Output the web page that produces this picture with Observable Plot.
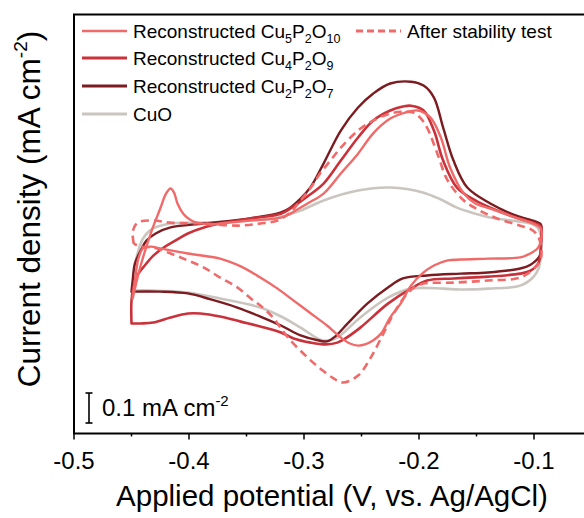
<!DOCTYPE html>
<html>
<head>
<meta charset="utf-8">
<script src="https://cdn.jsdelivr.net/npm/d3@7"></script>
<script src="https://cdn.jsdelivr.net/npm/@observablehq/plot@0.6"></script>
<style>
  html, body { margin: 0; padding: 0; background: #fff; }
  #chart { width: 584px; height: 518px; overflow: hidden; }
</style>
</head>
<body>
<div id="chart"></div>
<script>
// Cyclic voltammograms: potential (V vs. Ag/AgCl) and current density (mA cm^-2),
// each loop traced anodic sweep first, then the cathodic return.

const cu5Potential = [-0.449, -0.442, -0.433, -0.425, -0.420, -0.416, -0.413, -0.410, -0.405, -0.399, -0.393, -0.381, -0.373, -0.347, -0.320, -0.312, -0.297, -0.283, -0.268, -0.253, -0.240, -0.225, -0.212, -0.201, -0.190, -0.181, -0.173, -0.161, -0.151, -0.138, -0.116, -0.099, -0.094, -0.094, -0.097, -0.105, -0.112, -0.140, -0.164, -0.175, -0.187, -0.196, -0.207, -0.216, -0.225, -0.233, -0.240, -0.247, -0.253, -0.260, -0.268, -0.280, -0.294, -0.309, -0.323, -0.338, -0.355, -0.373, -0.401, -0.425, -0.433, -0.440, -0.444, -0.447, -0.449];
const cu5Current = [-0.120, -0.010, 0.100, 0.180, 0.230, 0.247, 0.233, 0.197, 0.163, 0.143, 0.133, 0.127, 0.130, 0.140, 0.150, 0.163, 0.197, 0.230, 0.297, 0.363, 0.430, 0.480, 0.500, 0.507, 0.483, 0.417, 0.317, 0.230, 0.197, 0.180, 0.150, 0.127, 0.113, 0.073, 0.047, 0.027, 0.017, 0.013, 0.010, 0.007, -0.010, -0.033, -0.077, -0.137, -0.183, -0.237, -0.260, -0.273, -0.277, -0.270, -0.250, -0.210, -0.170, -0.127, -0.087, -0.050, -0.013, 0.013, 0.030, 0.047, 0.053, 0.047, 0.013, -0.060, -0.120];

const stabilityPotential = [-0.448, -0.449, -0.447, -0.442, -0.431, -0.416, -0.387, -0.358, -0.338, -0.323, -0.312, -0.303, -0.294, -0.286, -0.277, -0.268, -0.253, -0.240, -0.225, -0.212, -0.205, -0.199, -0.193, -0.184, -0.175, -0.161, -0.147, -0.132, -0.112, -0.101, -0.096, -0.094, -0.094, -0.099, -0.112, -0.140, -0.170, -0.199, -0.210, -0.222, -0.231, -0.242, -0.253, -0.266, -0.274, -0.286, -0.294, -0.314, -0.327, -0.338, -0.344, -0.358, -0.373, -0.387, -0.401, -0.416, -0.431, -0.442, -0.448];
const stabilityCurrent = [0.063, 0.097, 0.123, 0.137, 0.140, 0.133, 0.130, 0.123, 0.130, 0.140, 0.167, 0.207, 0.250, 0.297, 0.340, 0.383, 0.440, 0.473, 0.497, 0.503, 0.500, 0.483, 0.450, 0.363, 0.273, 0.207, 0.173, 0.147, 0.123, 0.107, 0.083, 0.057, 0.013, -0.017, -0.050, -0.060, -0.067, -0.073, -0.103, -0.170, -0.237, -0.317, -0.377, -0.400, -0.387, -0.353, -0.327, -0.250, -0.183, -0.143, -0.127, -0.083, -0.050, -0.017, 0.007, 0.030, 0.050, 0.053, 0.063];

const cu4Potential = [-0.450, -0.450, -0.448, -0.445, -0.440, -0.431, -0.422, -0.412, -0.401, -0.387, -0.373, -0.347, -0.320, -0.312, -0.297, -0.283, -0.268, -0.253, -0.240, -0.225, -0.214, -0.207, -0.196, -0.187, -0.179, -0.167, -0.151, -0.138, -0.116, -0.099, -0.094, -0.094, -0.096, -0.103, -0.112, -0.140, -0.170, -0.193, -0.207, -0.227, -0.251, -0.264, -0.271, -0.281, -0.294, -0.309, -0.320, -0.338, -0.355, -0.373, -0.390, -0.401, -0.416, -0.431, -0.442, -0.450];
const cu4Current = [-0.203, -0.127, -0.077, -0.043, -0.017, 0.023, 0.050, 0.073, 0.097, 0.117, 0.130, 0.147, 0.163, 0.180, 0.220, 0.263, 0.340, 0.417, 0.473, 0.507, 0.520, 0.523, 0.507, 0.440, 0.340, 0.250, 0.207, 0.183, 0.150, 0.130, 0.120, 0.057, 0.000, -0.027, -0.037, -0.047, -0.053, -0.060, -0.087, -0.137, -0.217, -0.253, -0.267, -0.273, -0.267, -0.253, -0.233, -0.213, -0.197, -0.180, -0.170, -0.170, -0.183, -0.200, -0.203, -0.203];

const cu2Potential = [-0.450, -0.449, -0.447, -0.442, -0.437, -0.429, -0.416, -0.387, -0.347, -0.320, -0.312, -0.303, -0.294, -0.283, -0.268, -0.253, -0.240, -0.225, -0.207, -0.196, -0.187, -0.179, -0.170, -0.158, -0.138, -0.116, -0.099, -0.094, -0.094, -0.095, -0.103, -0.112, -0.140, -0.164, -0.193, -0.214, -0.227, -0.245, -0.262, -0.273, -0.280, -0.287, -0.303, -0.320, -0.338, -0.358, -0.381, -0.401, -0.425, -0.450];
const cu2Current = [-0.097, -0.060, -0.003, 0.040, 0.073, 0.097, 0.117, 0.130, 0.147, 0.167, 0.183, 0.213, 0.253, 0.330, 0.440, 0.517, 0.563, 0.597, 0.603, 0.590, 0.550, 0.450, 0.340, 0.250, 0.197, 0.157, 0.137, 0.127, 0.073, 0.023, -0.007, -0.020, -0.033, -0.037, -0.043, -0.053, -0.083, -0.137, -0.203, -0.247, -0.263, -0.260, -0.243, -0.210, -0.180, -0.150, -0.123, -0.103, -0.097, -0.097];

const cuoPotential = [-0.448, -0.448, -0.447, -0.444, -0.440, -0.433, -0.416, -0.387, -0.347, -0.320, -0.303, -0.283, -0.253, -0.225, -0.196, -0.181, -0.167, -0.151, -0.138, -0.120, -0.103, -0.097, -0.094, -0.094, -0.096, -0.101, -0.112, -0.140, -0.164, -0.179, -0.207, -0.227, -0.251, -0.271, -0.279, -0.286, -0.303, -0.320, -0.338, -0.373, -0.401, -0.433, -0.448];
const cuoCurrent = [-0.093, -0.070, -0.010, 0.040, 0.080, 0.110, 0.130, 0.133, 0.140, 0.153, 0.173, 0.207, 0.240, 0.250, 0.233, 0.210, 0.183, 0.163, 0.150, 0.140, 0.130, 0.117, 0.090, 0.023, -0.020, -0.050, -0.077, -0.087, -0.090, -0.087, -0.087, -0.117, -0.183, -0.250, -0.260, -0.257, -0.217, -0.180, -0.150, -0.120, -0.100, -0.093, -0.093];

const xTicks = [-0.5, -0.4, -0.3, -0.2, -0.1];
const xMinorTicks = [-0.45, -0.35, -0.25, -0.15];
const scaleBarValue = 0.1; // mA cm^-2

const colors = {
  cu5: "#f06a6a",
  cu4: "#c9323a",
  cu2: "#7c1b20",
  cuo: "#cbc5c0"
};

const rows = (potential, current) => potential.map((v, i) => ({potential: v, current: current[i]}));

const lineOpts = (stroke, extra = {}) => ({
  x: "potential", y: "current", stroke, strokeWidth: 2.4,
  curve: "catmull-rom", strokeLinejoin: "round", strokeLinecap: "round", ...extra
});

const fontFamily = "'Liberation Sans', Arial, Helvetica, sans-serif";

const chart = Plot.plot({
  width: 584,
  height: 518,
  marginLeft: 73.5,
  marginRight: -7,
  marginTop: 14,
  marginBottom: 85,
  style: {fontFamily, background: "white", color: "black", overflow: "hidden"},
  x: {domain: [-0.5, -0.05]},
  y: {domain: [-0.57, 0.827], axis: null},
  marks: [
    Plot.axisX(xMinorTicks, {tickSize: 3.5, tickFormat: () => "", label: null, strokeWidth: 1.5}),
    Plot.axisX(xTicks, {tickSize: 6.5, tickPadding: 12, tickFormat: d => d.toFixed(1), fontSize: 24, label: null, strokeWidth: 1.5}),
    Plot.line(rows(cuoPotential, cuoCurrent), lineOpts(colors.cuo, {strokeWidth: 2.6})),
    Plot.line(rows(cu2Potential, cu2Current), lineOpts(colors.cu2)),
    Plot.line(rows(cu4Potential, cu4Current), lineOpts(colors.cu4, {strokeWidth: 2.6})),
    Plot.line(rows(stabilityPotential, stabilityCurrent), lineOpts(colors.cu5, {strokeWidth: 2.6, strokeDasharray: "8,5", strokeLinecap: "butt"})),
    Plot.line(rows(cu5Potential, cu5Current), lineOpts(colors.cu5)),
    Plot.frame({stroke: "black", strokeWidth: 2})
  ]
});

document.getElementById("chart").append(chart);

const svg = d3.select(chart);
const yScale = chart.scale("y");

// Axis titles
svg.append("text")
  .attr("x", 332).attr("y", 506)
  .attr("text-anchor", "middle")
  .attr("font-family", fontFamily).attr("font-size", 29.5)
  .attr("fill", "black")
  .text("Applied potential (V, vs. Ag/AgCl)");

const yTitle = svg.append("text")
  .attr("transform", "translate(40,209) rotate(-90)")
  .attr("text-anchor", "middle")
  .attr("font-family", fontFamily).attr("font-size", 31.5)
  .attr("fill", "black");
yTitle.append("tspan").text("Current density (mA cm");
yTitle.append("tspan").attr("font-size", 19).attr("dy", -13).text("-2");
yTitle.append("tspan").attr("dy", 13).text(")");

// Scale bar: its length is the y-scale extent of scaleBarValue
const barLen = yScale.apply(0) - yScale.apply(scaleBarValue);
const barX = 89, barBottom = 423;
const bar = svg.append("g").attr("stroke", "black").attr("stroke-width", 1.6);
bar.append("line").attr("x1", barX).attr("x2", barX).attr("y1", barBottom).attr("y2", barBottom - barLen);
bar.append("line").attr("x1", barX - 3.5).attr("x2", barX + 3.5).attr("y1", barBottom).attr("y2", barBottom);
bar.append("line").attr("x1", barX - 3.5).attr("x2", barX + 3.5).attr("y1", barBottom - barLen).attr("y2", barBottom - barLen);
const barText = svg.append("text")
  .attr("x", 102).attr("y", 416)
  .attr("text-anchor", "start")
  .attr("font-family", fontFamily).attr("font-size", 24).attr("fill", "black");
barText.append("tspan").text(`${scaleBarValue} mA cm`);
barText.append("tspan").attr("font-size", 15).attr("dy", -10).text("-2");

// Legend
const legendItems = [
  {label: ["Reconstructed Cu", "5", "P", "2", "O", "10"], color: colors.cu5, width: 2.6, dash: null, x: 82, y: 31},
  {label: ["Reconstructed Cu", "4", "P", "2", "O", "9"], color: colors.cu4, width: 3.2, dash: null, x: 82, y: 58},
  {label: ["Reconstructed Cu", "2", "P", "2", "O", "7"], color: colors.cu2, width: 2.8, dash: null, x: 82, y: 86},
  {label: ["CuO"], color: colors.cuo, width: 2.8, dash: null, x: 82, y: 114},
  {label: ["After stability test"], color: colors.cu5, width: 2.8, dash: "7,4", x: 356, y: 31}
];
const legend = svg.append("g").attr("font-family", fontFamily).attr("fill", "black").attr("text-anchor", "start");
for (const item of legendItems) {
  const g = legend.append("g");
  g.append("line")
    .attr("x1", item.x).attr("x2", item.x + 45)
    .attr("y1", item.y).attr("y2", item.y)
    .attr("stroke", item.color).attr("stroke-width", item.width)
    .attr("stroke-dasharray", item.dash);
  const t = g.append("text")
    .attr("x", item.x + 51).attr("y", item.y + 7)
    .attr("text-anchor", "start")
    .attr("font-size", 19);
  item.label.forEach((part, i) => {
    const sub = i % 2 === 1;
    t.append("tspan")
      .attr("font-size", sub ? 12.5 : 19)
      .attr("dy", i === 0 ? 0 : (sub ? 5 : -5))
      .text(part);
  });
}
</script>
</body>
</html>
